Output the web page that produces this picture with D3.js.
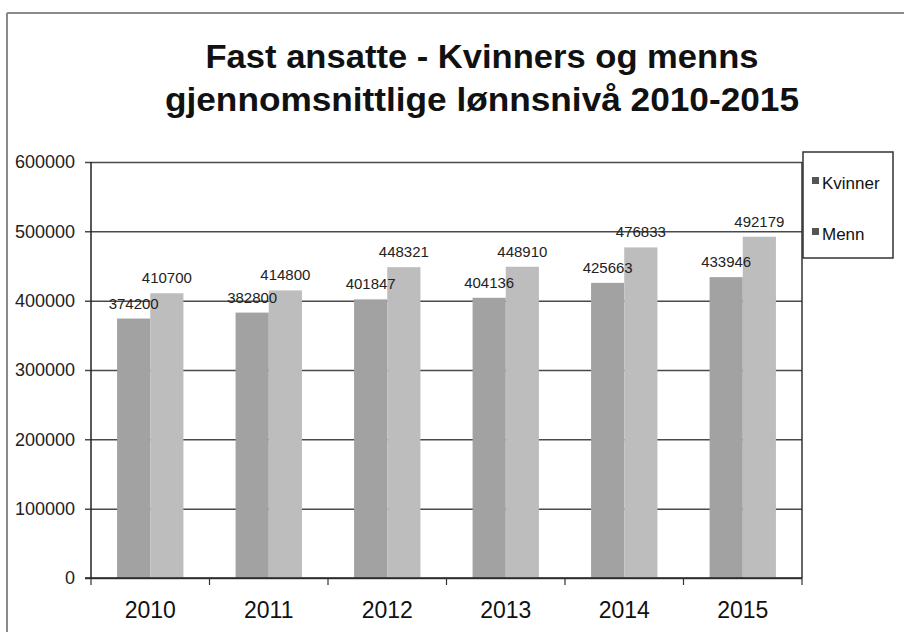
<!DOCTYPE html>
<html>
<head>
<meta charset="utf-8">
<script src="https://cdn.jsdelivr.net/npm/d3@7"></script>
<style>
  html, body { margin: 0; padding: 0; background: #fff; }
  svg { display: block; font-family: Arial, "Liberation Sans", Helvetica, sans-serif; }
</style>
</head>
<body>
<svg id="chart" width="904" height="632"></svg>
<script>
// ---- data ----
const years = ["2010", "2011", "2012", "2013", "2014", "2015"];
const seriesNames = ["Kvinner", "Menn"];
const kvinner = [374200, 382800, 401847, 404136, 425663, 433946];
const menn = [410700, 414800, 448321, 448910, 476833, 492179];
const yTicks = [0, 100000, 200000, 300000, 400000, 500000, 600000];
const titleLines = ["Fast ansatte - Kvinners og menns", "gjennomsnittlige lønnsnivå 2010-2015"];
const seriesColors = ["#a2a2a2", "#bdbdbd"];

const seriesValues = [kvinner, menn];
const rows = years.map((y, i) => ({ year: y, values: seriesNames.map((s, j) => ({ key: s, value: seriesValues[j][i] })) }));

const svg = d3.select("#chart");
const W = 904, H = 632;
const plot = { left: 91, right: 802, top: 162, bottom: 578 };

// outer frame (partial, as in scan)
svg.append("line").attr("x1", 7).attr("x2", W).attr("y1", 13).attr("y2", 13)
  .attr("stroke", "#8a8a8a").attr("stroke-width", 2);
svg.append("line").attr("x1", 7).attr("x2", 7).attr("y1", 13).attr("y2", H)
  .attr("stroke", "#8a8a8a").attr("stroke-width", 2);

// title
const title = svg.append("g").attr("font-weight", "bold").attr("fill", "#111").attr("text-anchor", "middle");
title.append("text").attr("x", 482).attr("y", 68).attr("font-size", 33)
  .attr("textLength", 553).attr("lengthAdjust", "spacingAndGlyphs").text(titleLines[0]);
title.append("text").attr("x", 482).attr("y", 111).attr("font-size", 33)
  .attr("textLength", 634).attr("lengthAdjust", "spacingAndGlyphs").text(titleLines[1]);

// scales
const x0 = d3.scaleBand().domain(years).range([plot.left, plot.right]).paddingInner(0.44).paddingOuter(0.22);
const x1 = d3.scaleBand().domain(seriesNames).range([0, x0.bandwidth()]);
const y = d3.scaleLinear().domain([0, 600000]).range([plot.bottom, plot.top]);
const color = d3.scaleOrdinal().domain(seriesNames).range(seriesColors);

// gridlines
const yAxis = d3.axisLeft(y).tickValues(yTicks).tickSize(-(plot.right - plot.left)).tickSizeOuter(0).tickFormat(d3.format("d"));
const gy = svg.append("g").attr("transform", `translate(${plot.left},0)`).call(yAxis);
gy.select(".domain").remove();
gy.selectAll(".tick line").attr("stroke", "#4a4a4a").attr("stroke-width", 1.5).attr("x1", -6);
gy.selectAll(".tick text").attr("x", -16).attr("font-size", 18).attr("fill", "#222")
  .attr("font-family", "Arial, 'Liberation Sans', sans-serif");

// plot right border
svg.append("line").attr("x1", plot.right).attr("x2", plot.right).attr("y1", plot.top).attr("y2", plot.bottom)
  .attr("stroke", "#333").attr("stroke-width", 1.5);

// bars
const groups = svg.append("g").selectAll("g").data(rows).join("g")
  .attr("transform", d => `translate(${x0(d.year)},0)`);
groups.selectAll("rect").data(d => d.values).join("rect")
  .attr("x", d => x1(d.key))
  .attr("y", d => y(d.value))
  .attr("width", x1.bandwidth())
  .attr("height", d => y(0) - y(d.value))
  .attr("fill", d => color(d.key));

// data labels
groups.selectAll("text").data(d => d.values).join("text")
  .attr("x", d => x1(d.key) + x1.bandwidth() / 2)
  .attr("y", d => y(d.value) - 10)
  .attr("text-anchor", "middle")
  .attr("font-size", 15)
  .attr("fill", "#222")
  .text(d => d.value);

// y axis line
svg.append("line").attr("x1", plot.left).attr("x2", plot.left).attr("y1", plot.top).attr("y2", plot.bottom)
  .attr("stroke", "#222").attr("stroke-width", 1.5);

// x axis
svg.append("line").attr("x1", plot.left - 6).attr("x2", plot.right).attr("y1", plot.bottom).attr("y2", plot.bottom)
  .attr("stroke", "#222").attr("stroke-width", 1.5);
const boundaries = years.map(yr => x0(yr) - x0.step() * x0.paddingOuter()).concat([plot.right]);
svg.append("g").selectAll("line").data(boundaries).join("line")
  .attr("x1", d => d).attr("x2", d => d).attr("y1", plot.bottom).attr("y2", plot.bottom + 7)
  .attr("stroke", "#333").attr("stroke-width", 1.2);
svg.append("g").selectAll("text").data(years).join("text")
  .attr("x", d => x0(d) + x0.bandwidth() / 2)
  .attr("y", 618)
  .attr("text-anchor", "middle")
  .attr("font-size", 23)
  .attr("fill", "#111")
  .text(d => d);

// legend
const lg = svg.append("g");
lg.append("rect").attr("x", 803).attr("y", 152).attr("width", 90).attr("height", 106)
  .attr("fill", "#fff").attr("stroke", "#333").attr("stroke-width", 1.5);
const items = lg.selectAll("g").data(seriesNames).join("g")
  .attr("transform", (d, i) => `translate(812, ${183 + i * 51})`);
items.append("rect").attr("x", 0).attr("y", -6).attr("width", 7).attr("height", 7).attr("fill", "#555");
items.append("text").attr("x", 10).attr("y", 0).attr("dy", "0.35em").attr("font-size", 17).attr("fill", "#111")
  .text(d => d);
</script>
</body>
</html>
